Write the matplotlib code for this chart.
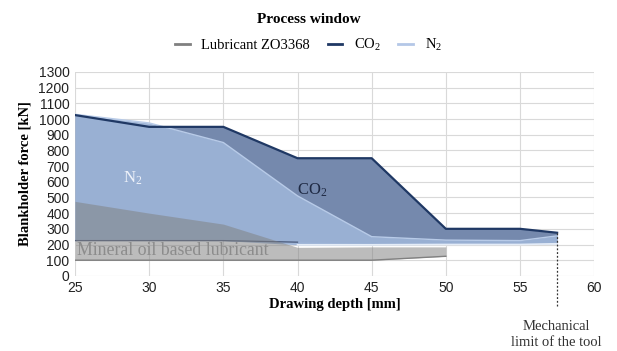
import matplotlib.pyplot as plt
from matplotlib.lines import Line2D

plt.rcParams['mathtext.fontset'] = 'custom'
plt.rcParams['mathtext.rm'] = 'Liberation Serif'
plt.rcParams['mathtext.it'] = 'Liberation Serif:italic'
plt.rcParams['mathtext.bf'] = 'Liberation Serif:bold'

# drawing depth [mm] and blankholder force [kN]
x_lub = [25, 30, 35, 40, 45, 50]
lub_low = [100, 100, 100, 100, 100, 125]
lub_high = [475, 400, 330, 182, 185, 185]

x_gas = [25, 30, 35, 40, 45, 50, 55, 57.5]
co2_high = [1025, 950, 950, 750, 750, 300, 300, 275]
co2_low = [225, 225, 225, 215, 210, 210, 210, 210]
n2_high = [1030, 975, 850, 510, 250, 228, 225, 255]
n2_low = [225, 225, 225, 198, 198, 200, 200, 205]

tool_limit = 57.5
x_ticks = [25, 30, 35, 40, 45, 50, 55, 60]
y_ticks = list(range(0, 1301, 100))

serif = 'Liberation Serif'
sans = 'Liberation Sans'

fig = plt.figure(figsize=(6.17, 3.51), dpi=100)
ax = fig.add_axes([0.1216, 0.214, 0.8414, 0.581])

ax.fill_between(x_gas, co2_low, co2_high, color='#7589ad', lw=0, zorder=2)
ax.fill_between(x_gas, n2_low, n2_high, color='#9cb3d6', alpha=0.95, lw=0, zorder=3)
ax.plot(x_gas, n2_high, color='#b8cbe8', lw=1.0, zorder=4)
ax.plot(x_gas, co2_high, color='#1f3864', lw=1.6, zorder=5)
ax.plot(x_gas[:4], co2_low[:4], color='#4a5a7a', lw=0.9, zorder=4)
ax.plot(x_gas[3:], n2_low[3:], color='#e4ecf7', lw=1.2, zorder=4)

ax.fill_between(x_lub, lub_low, lub_high, color='#808080', alpha=0.52, lw=0, zorder=6)
ax.plot(x_lub, lub_low, color='#808080', lw=1.0, zorder=6)

ax.vlines(tool_limit, -190, co2_high[-1], colors='#333333', linestyles=(0, (1.5, 1.5)),
          lw=0.9, clip_on=False, zorder=7)

ax.text(28.9, 620, 'N$_2$', color='#eef2fa', fontsize=12, family=serif,
        ha='center', va='center', zorder=8)
ax.text(41.0, 548, 'CO$_2$', color='#1f2a44', fontsize=12, family=serif,
        ha='center', va='center', zorder=8)
ax.text(25.15, 163, 'Mineral oil based lubricant', color='#8c8c8c', fontsize=12.8,
        family=serif, ha='left', va='center', zorder=8)

ax.set_xlim(25, 60)
ax.set_ylim(0, 1300)
ax.set_xticks(x_ticks)
ax.set_yticks(y_ticks)
ax.grid(True, color='#d9d9d9', lw=0.8, zorder=0)
ax.set_axisbelow(True)
for s in ax.spines.values():
    s.set_visible(False)
ax.tick_params(length=0, labelsize=10, pad=4)
for lab in ax.get_xticklabels() + ax.get_yticklabels():
    lab.set_family(sans)
    lab.set_color('#222222')

ax.set_xlabel('Drawing depth [mm]', family=serif, fontweight='bold', fontsize=10.5, labelpad=2)
ax.set_ylabel('Blankholder force [kN]', family=serif, fontweight='bold', fontsize=10.5, labelpad=5)

fig.text(0.902, 0.048, 'Mechanical\nlimit of the tool', family=serif, fontsize=10.5,
         ha='center', va='center', linespacing=1.3, color='#333333')
fig.text(0.5, 0.945, 'Process window', family=serif, fontweight='bold', fontsize=11,
         ha='center', va='center')

handles = [Line2D([], [], color='#808080', lw=2),
           Line2D([], [], color='#1f3864', lw=2),
           Line2D([], [], color='#b4c7e7', lw=2)]
fig.legend(handles, ['Lubricant ZO3368', 'CO$_2$', 'N$_2$'], loc='center',
           bbox_to_anchor=(0.5, 0.872), ncol=3, frameon=False, handlelength=1.0,
           columnspacing=1.2, handletextpad=0.8, prop={'family': serif, 'size': 10.5})

fig.savefig('out.png', dpi=100)
